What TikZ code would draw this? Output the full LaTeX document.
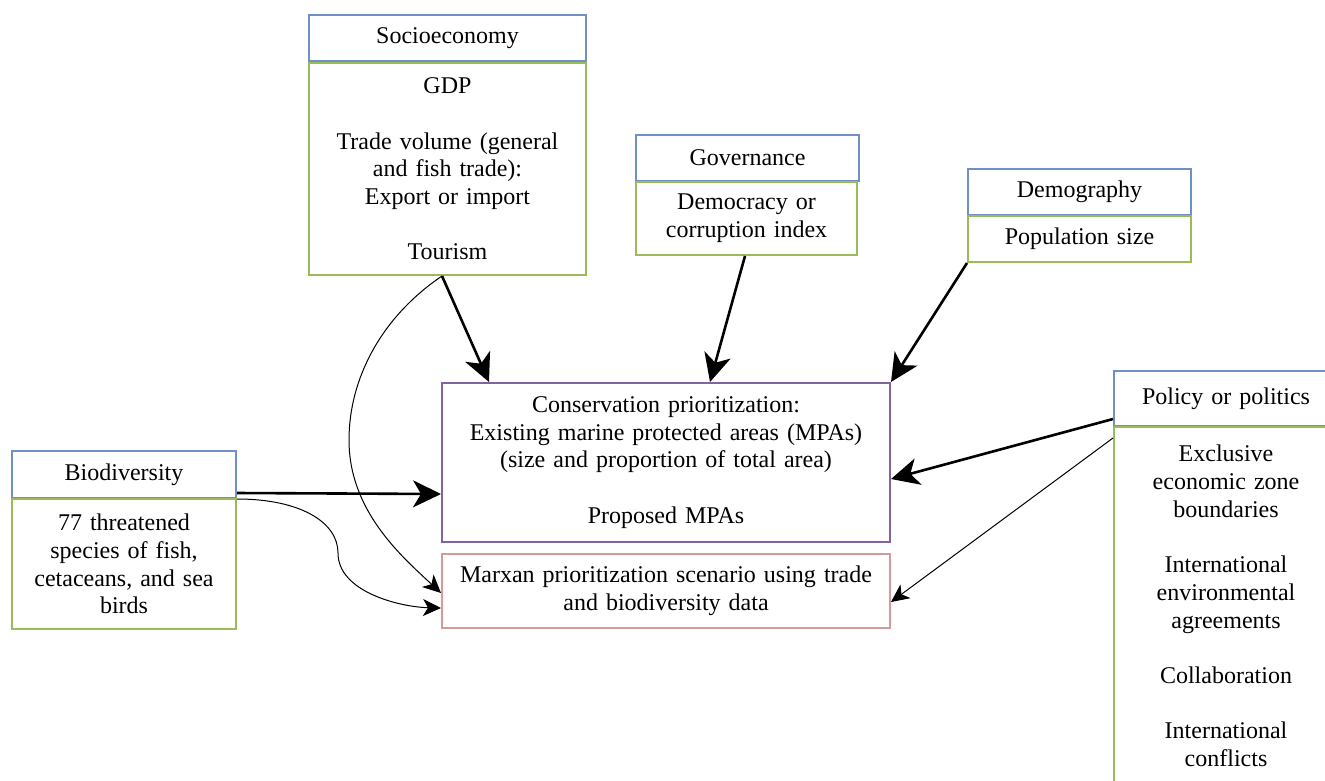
\documentclass[tikz,border=0pt]{standalone}
\usepackage{fontspec}
\setmainfont{Liberation Serif}
\usetikzlibrary{arrows.meta}

\definecolor{hdrblue}{HTML}{6F90C6}
\definecolor{bodygreen}{HTML}{9BBB59}
\definecolor{consviolet}{HTML}{8064A2}
\definecolor{marxanrose}{HTML}{D39C98}

\tikzset{
  box/.style={anchor=north west, draw, line width=2pt, inner sep=0pt,
    align=center, font=\fontsize{24}{27.7}\selectfont},
  hdr/.style={box, draw=hdrblue},
  bdy/.style={box, draw=bodygreen},
  bigarrow/.style={line width=2.6pt, -{Stealth[length=28pt, width=27pt, inset=8pt]}},
  smallarrow/.style={line width=1pt, -{Stealth[length=18pt, width=17pt, inset=5pt]}}
}

\begin{document}
\begin{tikzpicture}[x=1pt, y=-1pt]
\clip (0,0) rectangle (1325,780);
\fill[white] (0,0) rectangle (1325,780);

% Socioeconomy
\node[hdr, minimum width=277pt, minimum height=46pt, text width=267pt] (socH) at (308,14) {Socioeconomy};
\node[bdy, minimum width=277pt, minimum height=212pt, text width=267pt] (socB) at (308,62)
  {GDP\\[27.7pt]Trade volume (general\\and fish trade):\\Export or import\\[27.7pt]Tourism};

% Governance
\node[hdr, minimum width=223pt, minimum height=46pt, text width=213pt] (govH) at (635,134) {Governance};
\node[bdy, minimum width=221pt, minimum height=73pt, text width=211pt] (govB) at (635,181)
  {Democracy or\\corruption index};

% Demography
\node[hdr, minimum width=223pt, minimum height=46pt, text width=213pt] (demH) at (967,168) {Demography};
\node[bdy, minimum width=223pt, minimum height=46pt, text width=213pt] (demB) at (967,215) {Population size};

% Biodiversity
\node[hdr, minimum width=224pt, minimum height=47pt, text width=214pt] (bioH) at (11,450) {Biodiversity};
\node[bdy, minimum width=224pt, minimum height=130pt, text width=214pt] (bioB) at (11,498)
  {77 threatened\\species of fish,\\cetaceans, and sea\\birds};

% Policy or politics
\node[hdr, minimum width=224pt, minimum height=55pt, text width=214pt] (polH) at (1113,370) {Policy or politics};
\node[bdy, minimum width=224pt, minimum height=358pt, text width=214pt] (polB) at (1113,426)
  {Exclusive\\economic zone\\boundaries\\[27.7pt]International\\environmental\\agreements\\[27.7pt]Collaboration\\[27.7pt]International\\conflicts};

% Outcomes
\node[box, draw=consviolet, minimum width=448pt, minimum height=159pt, text width=440pt] (cons) at (441,382)
  {Conservation prioritization:\\Existing marine protected areas (MPAs)\\(size and proportion of total area)\\[27.7pt]Proposed MPAs};
\node[box, draw=marxanrose, minimum width=448pt, minimum height=74pt, text width=440pt] (marx) at (441,553)
  {Marxan prioritization scenario using trade\\and biodiversity data};

% Drivers of conservation prioritization
\draw[bigarrow] ([xshift=134pt]socB.south west) -- ([xshift=48pt]cons.north west);
\draw[bigarrow] ([xshift=110pt]govB.south west) -- ([xshift=269pt]cons.north west);
\draw[bigarrow] (demB.south west) -- (cons.north east);
\draw[bigarrow] ([yshift=6pt]bioH.south east) -- ([yshift=-31.5pt]cons.west);
\draw[bigarrow] ([yshift=-20.5pt]polH.west) -- ([yshift=-16.5pt]cons.east);

% Inputs to the Marxan scenario
\draw[smallarrow] ([yshift=-12pt]polB.north west) -- ([yshift=-11pt]marx.east);
\draw[smallarrow] ([xshift=134pt]socB.south west)
  .. controls (380,318) and (349,380) .. (349,440)
  .. controls (349,510) and (400,555) .. ([yshift=-2pt]marx.west);
\draw[smallarrow] ([yshift=-1pt]bioB.north east)
  .. controls (300,499) and (338,522) .. (338,553)
  .. controls (338,592) and (400,607) .. ([yshift=-17pt]marx.west);
\end{tikzpicture}
\end{document}
